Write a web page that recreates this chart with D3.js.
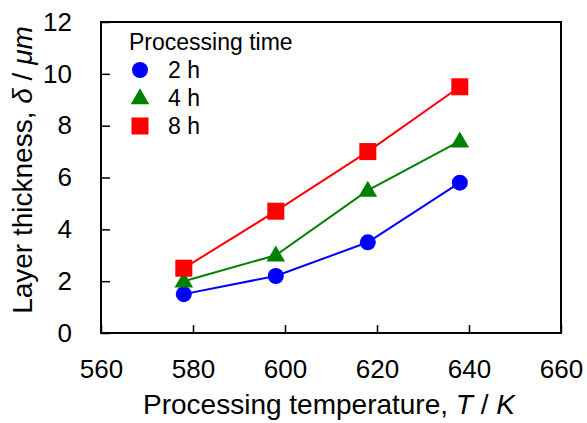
<!DOCTYPE html>
<html>
<head>
<meta charset="utf-8">
<script src="https://cdn.jsdelivr.net/npm/d3@7"></script>
<style>
    body { margin: 0; background: #fff; }
    svg text { font-family: "Liberation Sans", Arial, sans-serif; fill: #000; }
</style>
</head>
<body>
<div id="chart"></div>
<script>
// data
var temps = [578, 598, 618, 638];
var thick_2h = [1.5, 2.2, 3.5, 5.8];
var thick_4h = [2.0, 3.0, 5.5, 7.4];
var thick_8h = [2.5, 4.7, 7.0, 9.5];
var series_names = ["2 h", "4 h", "8 h"];
var x_ticks = [560, 580, 600, 620, 640, 660];
var y_ticks = [0, 2, 4, 6, 8, 10, 12];

const width = 587, height = 423;
const plot_left = 101, plot_right = 561, plot_top = 22, plot_bottom = 333;

var svg = d3.select("#chart")
    .append("svg")
    .attr("width", width)
    .attr("height", height);

var x = d3.scaleLinear().domain([560, 660]).range([plot_left, plot_right]);
var y = d3.scaleLinear().domain([0, 12]).range([plot_bottom, plot_top]);

var series = [
    { name: series_names[0], values: thick_2h, color: "#0000ff", shape: "circle" },
    { name: series_names[1], values: thick_4h, color: "#008000", shape: "triangle" },
    { name: series_names[2], values: thick_8h, color: "#ff0000", shape: "square" }
];

// axes, ticks point inward
var xAxis = svg.append("g")
    .attr("transform", "translate(0," + plot_bottom + ")")
    .call(d3.axisBottom(x).tickValues(x_ticks).tickSize(-8).tickPadding(26.5));
var yAxis = svg.append("g")
    .attr("transform", "translate(" + plot_left + ",0)")
    .call(d3.axisLeft(y).tickValues(y_ticks).tickSize(-9).tickPadding(29));

[xAxis, yAxis].forEach(function (g) {
    g.select(".domain").remove();
    g.selectAll("line").attr("stroke", "#000").attr("stroke-width", 1.5);
    g.selectAll("text")
        .style("font-size", "26px")
        .style("font-family", "'Liberation Sans', Arial, sans-serif")
        .attr("fill", "#000");
});

// frame
svg.append("rect")
    .attr("x", plot_left)
    .attr("y", plot_top)
    .attr("width", plot_right - plot_left)
    .attr("height", plot_bottom - plot_top)
    .attr("fill", "none")
    .attr("stroke", "#000")
    .attr("stroke-width", 2);

function marker(sel, shape, color) {
    if (shape == "circle") {
        sel.append("circle").attr("r", 8).attr("fill", color);
    } else if (shape == "triangle") {
        sel.append("path")
            .attr("d", d3.symbol().type(d3.symbolTriangle).size(150))
            .attr("transform", "translate(0,1)")
            .attr("fill", color);
    } else {
        sel.append("rect")
            .attr("x", -8.5).attr("y", -8.5)
            .attr("width", 17).attr("height", 17)
            .attr("fill", color);
    }
}

var line = d3.line()
    .x(function (d) { return x(d[0]); })
    .y(function (d) { return y(d[1]); });

series.forEach(function (s) {
    var pts = temps.map(function (t, i) { return [t, s.values[i]]; });
    svg.append("path")
        .datum(pts)
        .attr("d", line)
        .attr("fill", "none")
        .attr("stroke", s.color)
        .attr("stroke-width", 2);

    svg.selectAll("g.pt_" + s.shape)
        .data(pts)
        .enter()
        .append("g")
        .attr("class", "pt_" + s.shape)
        .attr("transform", function (d) { return "translate(" + x(d[0]) + "," + y(d[1]) + ")"; })
        .each(function () { marker(d3.select(this), s.shape, s.color); });
});

// legend
svg.append("text")
    .attr("x", 129)
    .attr("y", 50)
    .style("font-size", "23px")
    .text("Processing time");

var leg = svg.selectAll("g.legend_row")
    .data(series)
    .enter()
    .append("g")
    .attr("class", "legend_row")
    .attr("transform", function (d, i) { return "translate(0," + (70 + 28 * i) + ")"; });

leg.append("g")
    .attr("transform", "translate(140,0)")
    .each(function (d) { marker(d3.select(this), d.shape, d.color); });

leg.append("text")
    .attr("x", 168)
    .attr("y", 8)
    .style("font-size", "23px")
    .text(function (d) { return d.name; });

// axis titles
var xt = svg.append("text")
    .attr("x", (plot_left + plot_right) / 2 - 2)
    .attr("y", 414)
    .attr("text-anchor", "middle")
    .style("font-size", "28px");
xt.append("tspan").text("Processing temperature, ");
xt.append("tspan").style("font-style", "italic").text("T");
xt.append("tspan").text(" / ");
xt.append("tspan").style("font-style", "italic").text("K");

var yt = svg.append("text")
    .attr("transform", "translate(32,170) rotate(-90)")
    .attr("text-anchor", "middle")
    .style("font-size", "28px");
yt.append("tspan").text("Layer thickness, ");
yt.append("tspan").style("font-style", "italic").text("δ");
yt.append("tspan").text(" / ");
yt.append("tspan").style("font-style", "italic").text("μm");
</script>
</body>
</html>
